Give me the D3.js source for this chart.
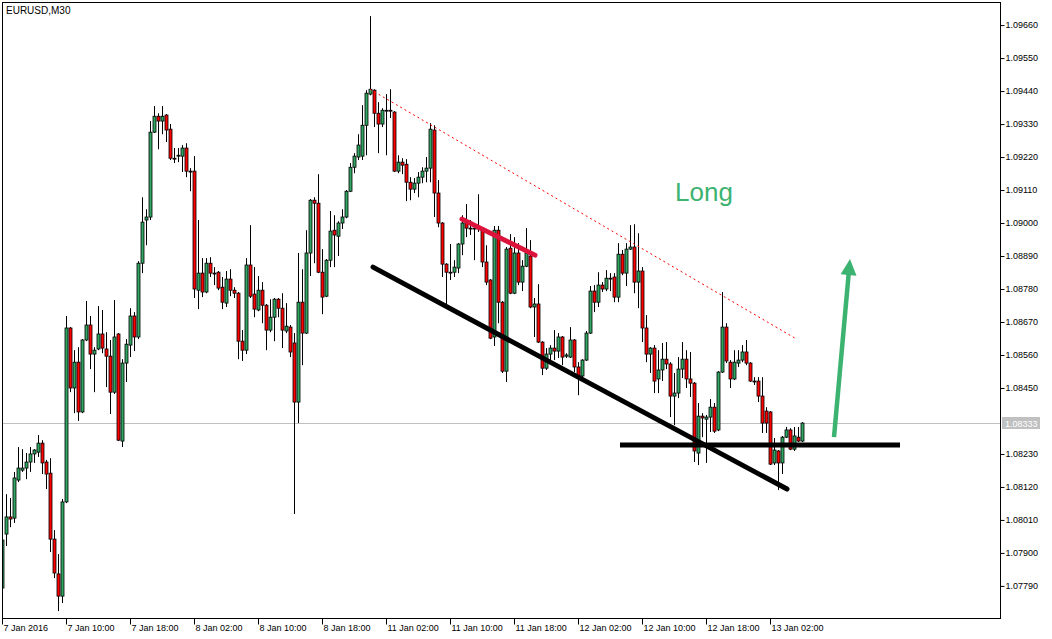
<!DOCTYPE html>
<html><head><meta charset="utf-8">
<script src="https://cdn.jsdelivr.net/npm/d3@7"></script>
<style>
html,body{margin:0;padding:0;background:#fff;}
svg{display:block;font-family:"Liberation Sans",Arial,sans-serif;}
</style></head><body>
<svg id="chart" width="1052" height="639"></svg>
<script>
const symbolTitle = "EURUSD,M30";

const opens = [
1.07783,1.07963,1.08020,1.08016,1.08143,1.08176,1.08183,1.08203,1.08230,1.08236,
1.08266,1.08203,1.08166,1.07946,1.07830,1.07756,1.08070,1.08650,1.08450,1.08536,
1.08370,1.08610,1.08660,1.08563,1.08580,1.08630,1.08580,1.08556,1.08436,1.08630,
1.08273,1.08533,1.08593,1.08690,1.08620,1.08866,1.09010,1.09020,1.09303,1.09356,
1.09340,1.09360,1.09313,1.09216,1.09223,1.09223,1.09250,1.09173,1.09173,1.08776,
1.08833,1.08770,1.08866,1.08833,1.08836,1.08786,1.08733,1.08813,1.08776,1.08766,
1.08606,1.08576,1.08860,1.08763,1.08710,1.08776,1.08726,1.08643,1.08686,1.08746,
1.08716,1.08640,1.08653,1.08600,1.08403,1.08736,1.08633,1.08900,1.09076,1.09066,
1.08836,1.08756,1.08876,1.08976,1.08956,1.09000,1.09020,1.09106,1.09186,1.09220,
1.09223,1.09326,1.09430,1.09443,1.09366,1.09330,1.09373,1.09376,1.09370,1.09173,
1.09203,1.09196,1.09136,1.09113,1.09133,1.09153,1.09173,1.09183,1.09310,1.09100,
1.09000,1.08863,1.08836,1.08836,1.08850,1.08930,1.09000,1.08983,1.08980,1.08983,
1.08983,1.08870,1.08810,1.08620,1.08976,1.08736,1.08506,1.08916,1.08766,1.08900,
1.08803,1.08856,1.08890,1.08720,1.08730,1.08603,1.08516,1.08563,1.08583,1.08573,
1.08620,1.08556,1.08553,1.08610,1.08520,1.08490,1.08543,1.08633,1.08773,1.08736,
1.08793,1.08780,1.08816,1.08820,1.08753,1.08896,1.08833,1.08913,1.08920,1.08803,
1.08840,1.08650,1.08563,1.08583,1.08480,1.08510,1.08546,1.08530,1.08423,1.08433,
1.08513,1.08546,1.08480,1.08466,1.08233,1.08356,1.08346,1.08353,1.08386,1.08310,
1.08503,1.08653,1.08536,1.08480,1.08533,1.08543,1.08570,1.08533,1.08473,1.08473,
1.08423,1.08373,1.08370,1.08200,1.08240,1.08200,1.08286,1.08310,1.08246,1.08286,
1.08273];
const highs = [
1.07966,1.08096,1.08083,1.08170,1.08253,1.08246,1.08233,1.08253,1.08246,1.08293,
1.08276,1.08210,1.08216,1.07976,1.07896,1.08080,1.08690,1.08653,1.08576,1.08586,
1.08613,1.08740,1.08690,1.08586,1.08723,1.08710,1.08636,1.08610,1.08743,1.08633,
1.08546,1.08613,1.08716,1.08703,1.08873,1.09086,1.09046,1.09340,1.09390,1.09366,
1.09390,1.09363,1.09330,1.09250,1.09250,1.09260,1.09266,1.09183,1.09223,1.09010,
1.08883,1.08883,1.08886,1.08853,1.08840,1.08820,1.08840,1.08846,1.08786,1.08770,
1.08643,1.08883,1.08993,1.08853,1.08823,1.08803,1.08730,1.08746,1.08750,1.08750,
1.08766,1.08733,1.08660,1.08633,1.08900,1.08846,1.08976,1.09080,1.09086,1.09163,
1.08913,1.08880,1.09040,1.09026,1.09006,1.09046,1.09110,1.09200,1.09233,1.09296,
1.09393,1.09443,1.09690,1.09446,1.09403,1.09383,1.09430,1.09446,1.09373,1.09226,
1.09216,1.09213,1.09153,1.09150,1.09170,1.09186,1.09220,1.09333,1.09326,1.09143,
1.09003,1.08866,1.08930,1.08876,1.08933,1.09026,1.09063,1.09010,1.09000,1.09096,
1.08986,1.08926,1.08813,1.08990,1.08990,1.08740,1.08920,1.08963,1.08953,1.08933,
1.08876,1.08983,1.08943,1.08750,1.08796,1.08606,1.08583,1.08593,1.08643,1.08633,
1.08623,1.08566,1.08653,1.08613,1.08536,1.08546,1.08640,1.08790,1.08793,1.08836,
1.08803,1.08843,1.08833,1.08833,1.08933,1.08910,1.08933,1.08993,1.08996,1.08966,
1.08853,1.08693,1.08586,1.08593,1.08576,1.08600,1.08603,1.08536,1.08500,1.08553,
1.08603,1.08576,1.08570,1.08470,1.08400,1.08366,1.08360,1.08413,1.08400,1.08506,
1.08770,1.08666,1.08543,1.08576,1.08576,1.08593,1.08610,1.08536,1.08486,1.08486,
1.08486,1.08386,1.08373,1.08283,1.08243,1.08290,1.08320,1.08316,1.08320,1.08320,
1.08336];
const lows = [
1.07770,1.07923,1.07986,1.08000,1.08136,1.08170,1.08146,1.08170,1.08200,1.08220,
1.08163,1.08113,1.07903,1.07816,1.07706,1.07733,1.08066,1.08436,1.08366,1.08340,
1.08366,1.08606,1.08513,1.08436,1.08576,1.08566,1.08453,1.08363,1.08430,1.08273,
1.08253,1.08470,1.08553,1.08573,1.08613,1.08833,1.08926,1.09010,1.09300,1.09246,
1.09296,1.09270,1.09210,1.09200,1.09203,1.09170,1.09153,1.09106,1.08750,1.08713,
1.08753,1.08766,1.08820,1.08793,1.08776,1.08713,1.08720,1.08756,1.08750,1.08546,
1.08540,1.08563,1.08750,1.08686,1.08706,1.08666,1.08576,1.08636,1.08606,1.08686,
1.08583,1.08633,1.08553,1.08030,1.08333,1.08526,1.08630,1.08823,1.08866,1.08833,
1.08696,1.08753,1.08853,1.08853,1.08890,1.08980,1.09016,1.09103,1.09166,1.09210,
1.09210,1.09226,1.09426,1.09320,1.09233,1.09320,1.09226,1.09350,1.09170,1.09166,
1.09163,1.09073,1.09076,1.09100,1.09086,1.09133,1.09136,1.09136,1.09020,1.08986,
1.08820,1.08726,1.08810,1.08820,1.08833,1.08893,1.08953,1.08960,1.08876,1.08970,
1.08853,1.08793,1.08613,1.08590,1.08666,1.08500,1.08470,1.08763,1.08763,1.08793,
1.08773,1.08853,1.08716,1.08620,1.08600,1.08493,1.08510,1.08533,1.08543,1.08550,
1.08526,1.08550,1.08550,1.08503,1.08426,1.08486,1.08540,1.08630,1.08703,1.08720,
1.08770,1.08773,1.08773,1.08736,1.08736,1.08826,1.08790,1.08910,1.08766,1.08716,
1.08603,1.08536,1.08500,1.08433,1.08433,1.08473,1.08513,1.08353,1.08326,1.08416,
1.08483,1.08450,1.08420,1.08203,1.08193,1.08286,1.08200,1.08303,1.08300,1.08306,
1.08500,1.08533,1.08450,1.08476,1.08520,1.08536,1.08526,1.08470,1.08460,1.08403,
1.08300,1.08300,1.08193,1.08193,1.08110,1.08163,1.08283,1.08243,1.08240,1.08270,
1.08270];
const closes = [
1.07943,1.08020,1.08013,1.08150,1.08183,1.08183,1.08203,1.08230,1.08243,1.08266,
1.08200,1.08163,1.07946,1.07833,1.07756,1.08070,1.08650,1.08450,1.08536,1.08370,
1.08610,1.08660,1.08563,1.08576,1.08630,1.08583,1.08556,1.08436,1.08620,1.08276,
1.08533,1.08596,1.08690,1.08620,1.08866,1.09003,1.09020,1.09303,1.09356,1.09340,
1.09356,1.09310,1.09216,1.09213,1.09226,1.09250,1.09173,1.09170,1.08780,1.08833,
1.08770,1.08866,1.08833,1.08830,1.08783,1.08736,1.08813,1.08776,1.08766,1.08606,
1.08576,1.08860,1.08756,1.08713,1.08776,1.08726,1.08643,1.08686,1.08746,1.08716,
1.08643,1.08656,1.08570,1.08403,1.08736,1.08633,1.08900,1.09076,1.09066,1.08836,
1.08753,1.08876,1.08973,1.08960,1.09000,1.09020,1.09106,1.09186,1.09223,1.09260,
1.09326,1.09433,1.09446,1.09366,1.09330,1.09376,1.09376,1.09373,1.09173,1.09203,
1.09193,1.09136,1.09113,1.09133,1.09153,1.09173,1.09183,1.09313,1.09100,1.09000,
1.08863,1.08836,1.08833,1.08853,1.08930,1.09000,1.08983,1.08980,1.08983,1.08980,
1.08870,1.08803,1.08616,1.08976,1.08736,1.08506,1.08913,1.08766,1.08900,1.08803,
1.08856,1.08900,1.08720,1.08730,1.08603,1.08516,1.08563,1.08583,1.08573,1.08620,
1.08553,1.08560,1.08610,1.08520,1.08490,1.08543,1.08633,1.08773,1.08736,1.08793,
1.08780,1.08816,1.08813,1.08753,1.08896,1.08833,1.08913,1.08920,1.08803,1.08840,
1.08650,1.08563,1.08583,1.08473,1.08510,1.08546,1.08530,1.08423,1.08433,1.08513,
1.08546,1.08480,1.08466,1.08240,1.08356,1.08350,1.08353,1.08386,1.08306,1.08503,
1.08653,1.08540,1.08480,1.08536,1.08543,1.08570,1.08533,1.08473,1.08470,1.08423,
1.08333,1.08333,1.08196,1.08243,1.08200,1.08286,1.08310,1.08246,1.08290,1.08273,
1.08333];

const timeTickBars = [0,16,32,48,64,80,96,112,128,144,160,176,192];
const timeTickLabels = ["7 Jan 2016","7 Jan 10:00","7 Jan 18:00","8 Jan 02:00","8 Jan 10:00","8 Jan 18:00",
  "11 Jan 02:00","11 Jan 10:00","11 Jan 18:00","12 Jan 02:00","12 Jan 10:00","12 Jan 18:00","13 Jan 02:00"];
const priceTicks = [1.09660,1.09550,1.09440,1.09330,1.09220,1.09110,1.09000,1.08890,1.08780,
  1.08670,1.08560,1.08450,1.08230,1.08120,1.08010,1.07900,1.07790];
const currentPrice = 1.08333;

// drawn objects (bar index, price)
const downTrendLine = [[92.75,1.08853],[196.25,1.08113]];
const supportLine = [[154.5,1.08260],[224.5,1.08260]];
const flagLine = [[115,1.09013],[133.25,1.08893]];
const resistanceLine = [[92,1.09446],[198.25,1.08616]];
const arrowLine = [[208,1.08286],[212,1.08880]];
const noteText = "Long";
const notePos = [175.5,1.09073];

// ---------- drawing ----------
const W = 1052, H = 639;
const plot = {left:2, top:2, right:1000, bottom:618};
const svg = d3.select("#chart");

const x = d3.scaleLinear().domain([0,249.5]).range([plot.left, plot.right]);
const y = d3.scaleLinear().domain([1.07683,1.09737]).range([plot.bottom, plot.top]);

svg.append("rect").attr("width",W).attr("height",H).attr("fill","#fff");

svg.append("defs").append("clipPath").attr("id","clip")
  .append("rect").attr("x",plot.left).attr("y",plot.top)
  .attr("width",plot.right-plot.left).attr("height",plot.bottom-plot.top);

const g = svg.append("g").attr("clip-path","url(#clip)");

// current price line
g.append("line").attr("x1",plot.left).attr("x2",plot.right)
  .attr("y1",Math.round(y(currentPrice))+0.5).attr("y2",Math.round(y(currentPrice))+0.5)
  .attr("stroke","#c0c0c0").attr("stroke-width",1);

const bars = d3.range(opens.length).map(i=>({i,o:opens[i],h:highs[i],l:lows[i],c:closes[i]}));
const bull = "#2fa762", bear = "#ff0000";

g.selectAll("line.wick").data(bars).join("line").attr("class","wick")
  .attr("x1",d=>Math.round(x(d.i))+0.5).attr("x2",d=>Math.round(x(d.i))+0.5)
  .attr("y1",d=>y(d.h)).attr("y2",d=>y(d.l))
  .attr("stroke","#000").attr("stroke-width",1);

g.selectAll("rect.body").data(bars).join("rect").attr("class","body")
  .attr("x",d=>Math.round(x(d.i))-1)
  .attr("width",3)
  .attr("y",d=>y(Math.max(d.o,d.c)))
  .attr("height",d=>Math.max(0.8,Math.abs(y(d.o)-y(d.c))))
  .attr("fill",d=>d.c>d.o?bull:(d.c<d.o?bear:"#000"))
  .attr("stroke","#000").attr("stroke-width",0.8);

// annotations
const ln = (pts,color,width,dash,cap) => g.append("line")
  .attr("x1",x(pts[0][0])).attr("y1",y(pts[0][1]))
  .attr("x2",x(pts[1][0])).attr("y2",y(pts[1][1]))
  .attr("stroke",color).attr("stroke-width",width)
  .attr("stroke-dasharray",dash||null).attr("stroke-linecap",cap||"butt");

ln(resistanceLine,"#ff0000",1,"2,3");
ln(downTrendLine,"#000",5,null,"round");
ln(supportLine,"#000",5,null,"butt");
ln(flagLine,"#dc143c",5,null,"round");

// arrow
{
  const x0=x(arrowLine[0][0]), y0=y(arrowLine[0][1]);
  const x1=x(arrowLine[1][0]), y1=y(arrowLine[1][1]);
  const dx=x1-x0, dy=y1-y0, len=Math.hypot(dx,dy);
  const ux=dx/len, uy=dy/len, px=-uy, py=ux;
  const headL=16, headW=8;
  const bx=x1-ux*headL, by=y1-uy*headL;
  const col="#3cb371";
  g.append("line").attr("x1",x0).attr("y1",y0).attr("x2",bx+ux*2).attr("y2",by+uy*2)
    .attr("stroke",col).attr("stroke-width",4.5);
  g.append("path").attr("d",`M${x1},${y1}L${bx+px*headW},${by+py*headW}L${bx-px*headW},${by-py*headW}Z`)
    .attr("fill",col);
}

g.append("text").attr("x",x(notePos[0])).attr("y",y(notePos[1]))
  .attr("text-anchor","middle").attr("font-size",26).attr("fill","#3cb371")
  .text(noteText);

// frame
svg.append("rect").attr("x",plot.left+0.5).attr("y",plot.top+0.5)
  .attr("width",plot.right-plot.left).attr("height",plot.bottom-plot.top)
  .attr("fill","none").attr("stroke","#000").attr("stroke-width",1);

// right axis
const ay = svg.append("g").attr("transform",`translate(${plot.right+0.5},0)`)
  .call(d3.axisRight(y).tickValues(priceTicks).tickSize(4).tickPadding(1).tickFormat(d3.format(".5f")));
ay.select(".domain").remove();
ay.selectAll("text").attr("font-size",9).attr("font-family","Liberation Sans, Arial, sans-serif").attr("fill","#000");
ay.selectAll("line").attr("stroke","#000");

// current price label
const cy = y(currentPrice);
svg.append("rect").attr("x",plot.right+2).attr("y",Math.round(cy)-6).attr("width",38).attr("height",12).attr("fill","#c0c0c0");
svg.append("text").attr("x",plot.right+5).attr("y",cy+3.5).attr("font-size",9).attr("fill","#fff").text(d3.format(".5f")(currentPrice));

// bottom axis
const ax = svg.append("g").attr("transform",`translate(0,${plot.bottom+0.5})`)
  .call(d3.axisBottom(x).tickValues(timeTickBars).tickSize(6).tickPadding(0).tickFormat((d,i)=>timeTickLabels[i]));
ax.select(".domain").remove();
ax.selectAll("text").attr("font-size",9).attr("font-family","Liberation Sans, Arial, sans-serif")
  .attr("text-anchor","start").attr("dx",1).attr("fill","#000");
ax.selectAll("line").attr("stroke","#000");

// title
svg.append("text").attr("x",6).attr("y",14).attr("font-size",10).attr("fill","#000").text(symbolTitle);
</script>
</body></html>
